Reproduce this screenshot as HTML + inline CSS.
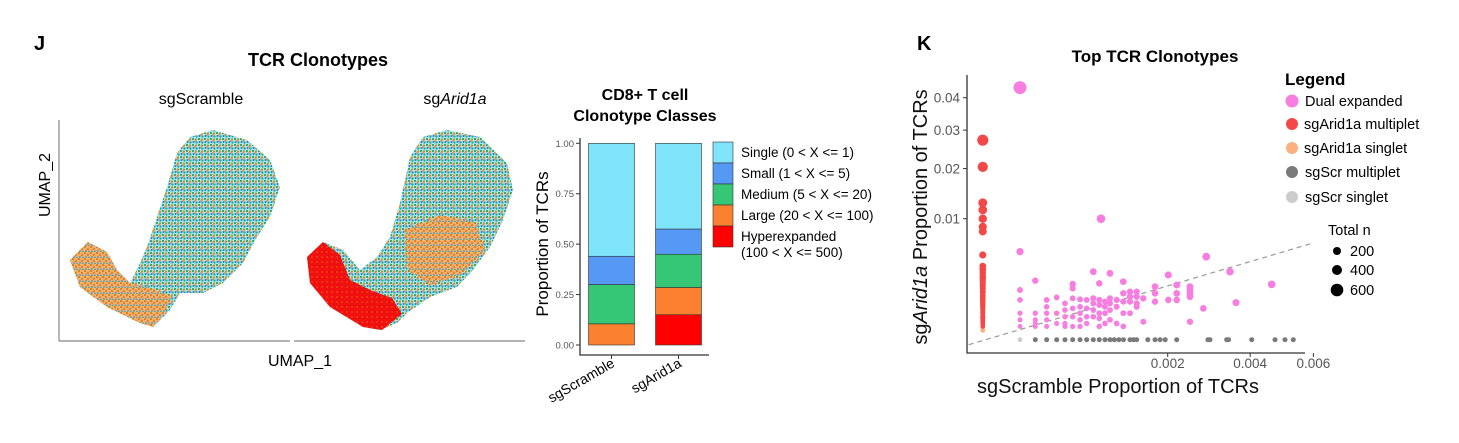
<!DOCTYPE html>
<html><head><meta charset="utf-8"><style>
html,body{margin:0;padding:0;background:#fff;}
svg{display:block;font-family:"Liberation Sans",Arial,sans-serif;}
</style></head><body>
<svg width="1459" height="443" viewBox="0 0 1459 443" xmlns="http://www.w3.org/2000/svg">
<defs>
<pattern id="mixA" width="6" height="6" patternUnits="userSpaceOnUse">
<rect width="6" height="6" fill="#a9e6f2"/>
<circle cx="1" cy="1" r="1.1" fill="#1faa6a"/><circle cx="4" cy="1.5" r="1.1" fill="#ef7d10"/>
<circle cx="1.5" cy="4" r="1" fill="#2f6fe0"/><circle cx="4.5" cy="4.5" r="1.1" fill="#1faa6a"/>
<circle cx="3" cy="3" r="0.8" fill="#ef7d10"/>
</pattern>
<pattern id="mixO" width="6" height="6" patternUnits="userSpaceOnUse">
<rect width="6" height="6" fill="#f3b070"/>
<circle cx="1" cy="1" r="1.2" fill="#ef7d10"/><circle cx="4" cy="3" r="1.2" fill="#ef7d10"/>
<circle cx="2" cy="5" r="0.8" fill="#2f6fe0"/><circle cx="5" cy="5.5" r="0.8" fill="#1faa6a"/>
</pattern>
<pattern id="mixR" width="5" height="5" patternUnits="userSpaceOnUse">
<rect width="5" height="5" fill="#f01010"/>
<circle cx="2" cy="2" r="0.6" fill="#f28a1e"/>
</pattern>
</defs>

<!-- Panel J -->
<text x="34" y="50" font-size="20" font-weight="bold">J</text>
<text x="318" y="66" font-size="18" font-weight="bold" text-anchor="middle">TCR Clonotypes</text>
<text x="201" y="104" font-size="16" text-anchor="middle">sgScramble</text>
<text x="455" y="104" font-size="16" text-anchor="middle">sg<tspan font-style="italic">Arid1a</tspan></text>
<line x1="59" y1="120" x2="59" y2="341" stroke="#888" stroke-width="1.2"/>
<line x1="59" y1="341" x2="290" y2="341" stroke="#888" stroke-width="1.2"/>
<line x1="294" y1="341" x2="525" y2="341" stroke="#888" stroke-width="1.2"/>
<text transform="translate(50,185) rotate(-90)" font-size="16" text-anchor="middle">UMAP_2</text>
<text x="300" y="366" font-size="16" text-anchor="middle">UMAP_1</text>

<path d="M70,260 L88,242 L107,252 L117,270 L130,283 L140,263 L147,247 L157,217 L167,187 L177,153 L190,137 L213,130 L247,140 L270,160 L280,187 L270,217 L257,237 L243,263 L223,283 L203,293 L180,293 L170,310 L153,327 L140,323 L107,307 L80,287 Z" fill="url(#mixA)"/>
<path d="M70,260 L88,242 L107,252 L117,270 L130,283 L150,288 L172,296 L165,312 L153,327 L140,323 L107,307 L80,287 Z" fill="url(#mixO)" opacity="0.9"/>
<path d="M307,257 L323,242 L343,250 L360,270 L377,257 L390,237 L400,203 L410,157 L423,137 L447,130 L480,137 L507,163 L513,190 L503,220 L490,247 L473,270 L457,287 L430,297 L407,313 L397,323 L380,330 L363,327 L330,307 L310,283 Z" fill="url(#mixA)"/>
<path d="M405,230 L440,215 L475,222 L485,250 L460,275 L430,285 L408,270 Z" fill="url(#mixO)" opacity="0.9"/>
<path d="M307,257 L323,242 L340,255 L350,280 L370,290 L392,298 L402,314 L382,330 L363,327 L330,307 L310,283 Z" fill="url(#mixR)"/>

<!-- Stacked bar chart -->
<g id="barchart"></g>

<!-- Panel K -->
<text x="917" y="50" font-size="20" font-weight="bold">K</text>
<text x="1155" y="62" font-size="17" font-weight="bold" text-anchor="middle">Top TCR Clonotypes</text>
<text transform="translate(927,217) rotate(-90)" font-size="20" text-anchor="middle" fill="#111">sg<tspan font-style="italic">Arid1a</tspan> Proportion of TCRs</text>
<text x="1118" y="393" font-size="20" text-anchor="middle" fill="#111">sgScramble Proportion of TCRs</text>
<g id="scatter"></g>

<g>
<text x="1285" y="85" font-size="17" font-weight="bold">Legend</text>
<circle cx="1292" cy="101" r="6.5" fill="#f77ee0"/>
<text x="1305" y="106" font-size="14.5">Dual expanded</text>
<circle cx="1292" cy="124" r="6" fill="#f44848"/>
<text x="1304" y="129" font-size="14.5">sgArid1a multiplet</text>
<circle cx="1292" cy="148" r="6" fill="#fbb07e"/>
<text x="1304" y="153" font-size="14.5">sgArid1a singlet</text>
<circle cx="1292" cy="172" r="6" fill="#7a7a7a"/>
<text x="1305" y="177" font-size="14.5">sgScr multiplet</text>
<circle cx="1292" cy="197" r="6" fill="#cccccc"/>
<text x="1305" y="202" font-size="14.5">sgScr singlet</text>
<text x="1328" y="235" font-size="14.5">Total n</text>
<circle cx="1337" cy="251" r="4" fill="#000"/>
<text x="1350" y="256" font-size="14.5">200</text>
<circle cx="1337" cy="270" r="5" fill="#000"/>
<text x="1350" y="275" font-size="14.5">400</text>
<circle cx="1337" cy="290" r="6.3" fill="#000"/>
<text x="1350" y="295" font-size="14.5">600</text>
</g>
</svg>
<script>
// ---------- Bar chart data ----------
const barCategories = ["sgScramble", "sgArid1a"];
const classNames = ["Hyperexpanded", "Large", "Medium", "Small", "Single"];
const classColors = ["#ff0000", "#fb8030", "#36c776", "#5599f5", "#7fe4fa"];
const scrambleShares = [0.0, 0.105, 0.195, 0.14, 0.56];
const arid1aShares = [0.15, 0.135, 0.165, 0.125, 0.425];
const barYTicks = [0, 0.25, 0.5, 0.75, 1.0];
const barYTickLabels = ["0.00", "0.25", "0.50", "0.75", "1.00"];
const legendLabels = ["Single (0 < X <= 1)", "Small (1 < X <= 5)", "Medium (5 < X <= 20)", "Large (20 < X <= 100)", "Hyperexpanded", "(100 < X <= 500)"];

// ---------- Scatter data (proportions) ----------
const dualX = [0.000133,0.000133,0.000133,0.000133,0.000133,0.000133,0.000133,
 0.000224,0.000224,0.000224,0.000224,0.000224,
 0.000307,0.000307,0.000307,0.000307,0.000307,
 0.000391,0.000391,0.000391,
 0.000468,0.000468,0.000468,0.000468,0.000468,
 0.000546,0.000546,0.000546,0.000546,0.000546,0.000546,
 0.000626,0.000626,0.000626,0.000626,0.000626,
 0.000703,0.000703,0.000703,0.000703,
 0.000784,0.000784,0.000784,0.000784,0.000784,
 0.000861,0.000861,0.000861,0.000861,0.000861,0.000861,
 0.000938,0.000938,0.000938,0.000938,
 0.001008,0.001008,0.001008,0.001008,0.001008,
 0.001106,0.001106,0.001106,
 0.001207,0.001207,0.001207,0.001207,0.001207,
 0.001314,0.001314,0.001314,0.001314,
 0.001425,0.001425,0.001425,0.001425,
 0.00154,0.00154,
 0.001753,0.001753,0.001753,
 0.002012,0.002012,
 0.002185,0.002185,0.002185,
 0.002473,0.002473,0.002473,0.002473,0.002473,
 0.00278,0.00285,0.003448,0.003608,0.004636,0.000884];
const dualY = [0.0434,0.0053,0.00169,0.00108,0.00048,0.00027,0.00012,
 0.00238,0.00048,0.00027,0.00018,0.00012,
 0.00108,0.00074,0.00048,0.00027,0.00012,
 0.00122,0.00048,0.00018,
 0.0009,0.0006,0.00036,0.00018,0.00012,
 0.00212,0.0018,0.00117,0.00067,0.00036,0.00012,
 0.00111,0.00074,0.00048,0.00027,0.00012,
 0.00108,0.00067,0.00036,0.00018,
 0.00316,0.00117,0.0009,0.0006,0.00036,
 0.00217,0.00108,0.00082,0.00048,0.00031,0.00012,
 0.00099,0.00074,0.00048,0.00018,
 0.00301,0.00117,0.0009,0.0006,0.00027,
 0.00108,0.00074,0.00018,
 0.0023,0.00147,0.00099,0.00048,0.00012,
 0.00157,0.00126,0.00099,0.00048,
 0.00157,0.00126,0.0009,0.00074,
 0.00117,0.00022,
 0.00192,0.00147,0.00099,
 0.00286,0.00108,
 0.00204,0.00147,0.00108,
 0.00192,0.00169,0.00147,0.00126,0.00022,
 0.00067,0.00471,0.00316,0.00094,0.00209,0.01];
const aridMultiY = [0.0272,0.0204,0.0128,0.0115,0.01,0.0087,0.008,0.0049,
 0.0037,0.0034,0.0031,0.0028,0.0026,0.0024,0.0022,0.002,0.0018,0.0016,0.0015,0.0013,0.0012,0.0011,0.001,0.0009,0.0008,0.0007,0.0006,0.0005,0.0004,0.00035,0.0003,0.00025,0.0002,0.00016,0.00012];
const aridMultiX = 0.00001;
const aridSingleY = [0.00006];
const scrMultiX = [0.000224,0.000307,0.000391,0.000468,0.000546,0.000626,0.000703,0.000784,0.000861,0.000938,0.001008,0.00107,0.00114,0.00121,0.001314,0.00137,0.001425,0.00162,0.001753,0.00185,0.00195,0.002185,0.00289,0.00294,0.00336,0.00341,0.004045,0.004738,0.005052,0.00532];
const scrSingleX = [0.000133];
const sxTicks = [0.002, 0.004, 0.006];
const sxTickLabels = ["0.002", "0.004", "0.006"];
const syTicks = [0.01, 0.02, 0.03, 0.04];
const syTickLabels = ["0.01", "0.02", "0.03", "0.04"];

const NS = "http://www.w3.org/2000/svg";
function mk(tag, attrs, parent, txt){
  const e = document.createElementNS(NS, tag);
  for (const k in attrs) e.setAttribute(k, attrs[k]);
  if (txt !== undefined) e.textContent = txt;
  parent.appendChild(e);
  return e;
}

// ---------- Bar chart ----------
(function(){
  const g = document.getElementById("barchart");
  const by = v => 345 - 201.7 * v;
  const bx = i => 588.5 + i * 67;
  const bw = 46;
  let t;
  t = mk("text", {x:645, y:100, "font-size":16, "font-weight":"bold", "text-anchor":"middle"}, g, "CD8+ T cell");
  
  
  t = mk("text", {x:645, y:121, "font-size":16, "font-weight":"bold", "text-anchor":"middle"}, g, "Clonotype Classes");
  
  
  t = mk("text", {transform:"translate(548,244) rotate(-90)", "font-size":17, "text-anchor":"middle"}, g, "Proportion of TCRs");
  
  
  const ax = mk("path", {d:"M580,138 L580,355 L709,355", fill:"none", stroke:"#333", "stroke-width":1.3}, g);
  
  
  barYTicks.forEach((v,i)=>{
    const l = mk("line", {x1:576, x2:580, y1:by(v), y2:by(v), stroke:"#333"}, g);
    
    
    const tl = mk("text", {x:574, y:by(v)+3.5, "font-size":9.5, fill:"#555", "text-anchor":"end"}, g, barYTickLabels[i]);
    
    
  });
  [scrambleShares, arid1aShares].forEach((shares, ci)=>{
    let cum = 0;
    shares.forEach((s, k)=>{
      if (s <= 0) return;
      const r = mk("rect", {x:bx(ci), y:by(cum+s), width:bw, height:by(cum)-by(cum+s), fill:classColors[k], stroke:"#333", "stroke-width":0.6}, g);
      
      
      cum += s;
    });
    const cx = bx(ci) + bw/2;
    const tk = mk("line", {x1:cx, x2:cx, y1:355, y2:359, stroke:"#333"}, g);
    
    
    const xl = mk("text", {transform:"translate("+(cx+4)+",366) rotate(-30)", "font-size":14, "text-anchor":"end"}, g, barCategories[ci]);
    
    
  });
  const legColors = ["#7fe4fa", "#5599f5", "#36c776", "#fb8030", "#ff0000"];
  legColors.forEach((c,i)=>{
    const r = mk("rect", {x:713, y:142+i*21, width:20, height:21, fill:c, stroke:"#333", "stroke-width":0.6}, g);
    
    
  });
  legendLabels.forEach((s,i)=>{
    const tl = mk("text", {x:741, y:157+i*21 - (i==5?5:0), "font-size":13.5}, g, s);
    
    
  });
})();

// ---------- Scatter ----------
(function(){
  const g = document.getElementById("scatter");
  const sx = v => 968.7 + 4450 * Math.sqrt(v);
  const sy = v => 339.7 - 1210 * Math.sqrt(v);
  const rad = (x,y) => 2.1 + 21 * Math.sqrt(x + y);
  const ax = mk("path", {d:"M967,75 L967,353 L1305,353", fill:"none", stroke:"#333", "stroke-width":1.3}, g);
  
  
  sxTicks.forEach((v,i)=>{
    const l = mk("line", {x1:sx(v), x2:sx(v), y1:353, y2:357, stroke:"#333"}, g);
    
    
    const t = mk("text", {x:sx(v), y:368, "font-size":13.5, fill:"#555", "text-anchor":"middle"}, g, sxTickLabels[i]);
    
    
  });
  syTicks.forEach((v,i)=>{
    const l = mk("line", {x1:963, x2:967, y1:sy(v), y2:sy(v), stroke:"#333"}, g);
    
    
    const t = mk("text", {x:960, y:sy(v)+5, "font-size":13.5, fill:"#555", "text-anchor":"end"}, g, syTickLabels[i]);
    
    
  });
  const dl = mk("line", {x1:sx(0), y1:sy(0)+5, x2:sx(0.00595), y2:sy(0.00595)-3, stroke:"#999", "stroke-width":1.2, "stroke-dasharray":"5,4"}, g);
  
  
  scrSingleX.forEach(x=>{
    const c = mk("circle", {cx:sx(x), cy:sy(0), r:2.4, fill:"#cccccc"}, g);
    
    
  });
  scrMultiX.forEach(x=>{
    const c = mk("circle", {cx:sx(x), cy:sy(0), r:2.5, fill:"#7a7a7a"}, g);
    
    
  });
  aridSingleY.forEach(y=>{
    const c = mk("circle", {cx:sx(aridMultiX), cy:sy(y), r:2.4, fill:"#fbb07e"}, g);
    
    
  });
  aridMultiY.forEach(y=>{
    const c = mk("circle", {cx:sx(aridMultiX), cy:sy(y), r:rad(aridMultiX,y), fill:"#f44848"}, g);
    
    
  });
  dualX.forEach((x,i)=>{
    const y = dualY[i];
    const c = mk("circle", {cx:sx(x), cy:sy(y), r:rad(x,y), fill:"#f77ee0"}, g);
    
    
  });
})();
</script>
</body></html>
